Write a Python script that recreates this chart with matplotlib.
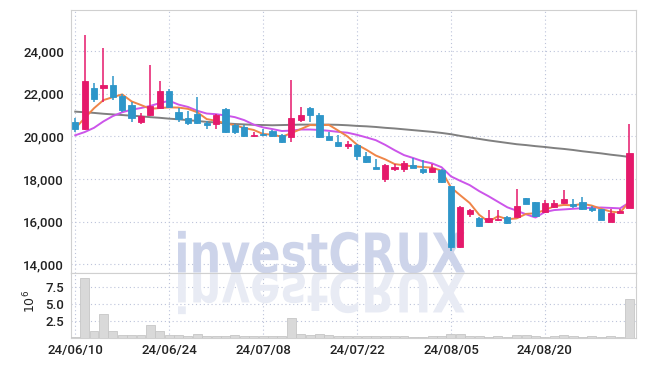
import numpy as np
import pandas as pd
import matplotlib
matplotlib.use("Agg")
import matplotlib.pyplot as plt
from matplotlib.textpath import TextPath
from matplotlib.patches import PathPatch
from matplotlib.font_manager import FontProperties
from matplotlib.transforms import Affine2D, IdentityTransform
from matplotlib.ticker import FuncFormatter

# daily candles, 2024-06-10 .. 2024-09-02 (trading days)
opens = [20690, 20345, 22260, 22260, 22400, 21900, 21460, 20690, 21000, 21350,
         22130, 21160, 20880, 21070, 20640, 20600, 21300, 20520, 20440, 20020,
         20130, 20240, 20080, 19970, 20790, 21330, 20990, 20000, 19730, 19550,
         19610, 19060, 18560, 18010, 18450, 18480, 18640, 18450, 18320, 18400,
         17650, 14790, 16360, 16170, 15970, 16060, 16200, 16200, 17110, 16940,
         16440, 16670, 16860, 16830, 16910, 16630, 16570, 16000, 16390, 16640]
highs = [20850, 24770, 22490, 24140, 22810, 21980, 21600, 21080, 23330, 22600,
         22210, 21320, 21180, 21850, 20710, 21070, 21330, 20600, 20520, 20200,
         20330, 20280, 20130, 22630, 21380, 21380, 21110, 20200, 20050, 19770,
         19660, 19260, 18950, 18710, 18710, 18820, 19000, 18870, 18710, 18480,
         17680, 16750, 16600, 16200, 16550, 16520, 16250, 17540, 17110, 16940,
         16990, 16990, 17490, 17040, 17150, 16750, 16570, 16600, 16600, 20570]
lows = [20220, 20300, 21600, 21630, 21710, 21130, 20660, 20570, 20950, 21290,
        21320, 20690, 20550, 20600, 20360, 20330, 20170, 20090, 19970, 19970,
        20020, 19970, 19700, 19730, 20670, 20670, 19940, 19810, 19500, 19390,
        18870, 18760, 18450, 17880, 18380, 18320, 18520, 18240, 18300, 17820,
        14640, 14760, 16200, 15760, 15940, 16030, 15890, 16200, 16830, 16200,
        16420, 16640, 16840, 16640, 16560, 16460, 16090, 15990, 16380, 16630]
closes = [20345, 22600, 21760, 22400, 21870, 21240, 20850, 20970, 21440, 22130,
          21400, 20820, 20640, 20640, 20520, 21020, 20200, 20200, 20020, 20080,
          20060, 20020, 19730, 20860, 21020, 21020, 19970, 19810, 19550, 19620,
          19070, 18790, 18480, 18640, 18540, 18760, 18530, 18320, 18510, 17850,
          14790, 16670, 16520, 15780, 16170, 16130, 15940, 16750, 16830, 16280,
          16880, 16880, 17040, 16740, 16600, 16520, 16090, 16410, 16490, 19220]
volume_m = [0.1, 8.7, 0.95, 3.4, 0.95, 0.3, 0.3, 0.3, 1.8, 0.95,
            0.3, 0.3, 0.15, 0.5, 0.15, 0.15, 0.15, 0.3, 0.15, 0.15,
            0.15, 0.15, 0.15, 2.8, 0.5, 0.35, 0.5, 0.35, 0.2, 0.15,
            0.15, 0.15, 0.15, 0.15, 0.15, 0.15, 0.1, 0.1, 0.15, 0.2,
            0.5, 0.5, 0.2, 0.15, 0.1, 0.15, 0.1, 0.35, 0.35, 0.15,
            0.1, 0.2, 0.3, 0.15, 0.1, 0.15, 0.1, 0.15, 0.1, 5.6]

# moving averages as they appear on the chart
ma5 = [20380, 20850, 21320, 21700, 21840, 21970, 21640, 21470, 21290, 21330,
       21360, 21350, 21290, 21130, 20810, 20730, 20610, 20520, 20390, 20300,
       20110, 20080, 19980, 20150, 20340, 20530, 20520, 20540, 20270, 19990,
       19610, 19370, 19100, 18920, 18700, 18640, 18590, 18560, 18530, 18390,
       17600, 17230, 16870, 16320, 15990, 16250, 16110, 16150, 16360, 16390,
       16540, 16720, 16780, 16760, 16830, 16750, 16600, 16470, 16420, 16940]
ma10 = [20050, 20200, 20400, 20700, 20950, 21130, 21250, 21330, 21430, 21560,
        21670, 21490, 21380, 21200, 21070, 21040, 20980, 20900, 20760, 20550,
        20420, 20340, 20250, 20270, 20320, 20320, 20300, 20260, 20210, 20170,
        20070, 19950, 19820, 19600, 19350, 19120, 18980, 18830, 18730, 18550,
        18120, 17910, 17710, 17430, 17190, 16930, 16670, 16510, 16340, 16190,
        16450, 16540, 16570, 16600, 16630, 16650, 16660, 16640, 16620, 16900]
ma_long = [21160, 21130, 21100, 21060, 21030, 21000, 20970, 20940, 20900, 20870,
           20830, 20800, 20760, 20720, 20680, 20650, 20610, 20580, 20560, 20540,
           20530, 20520, 20530, 20540, 20550, 20550, 20550, 20550, 20540, 20520,
           20490, 20470, 20440, 20400, 20370, 20330, 20290, 20250, 20210, 20160,
           20100, 20020, 19950, 19880, 19810, 19750, 19690, 19630, 19590, 19540,
           19500, 19450, 19410, 19360, 19300, 19250, 19200, 19140, 19090, 19030]

dates = pd.bdate_range("2024-06-10", "2024-09-02")
dates = dates[dates != pd.Timestamp("2024-08-15")]  # Korean holiday

UP = "#e5196b"
DOWN = "#2e96c9"
GRID = "#bcc3da"
SPINE = "#d0d0d0"
label_font = "Roboto"

fig = plt.figure(figsize=(6.45, 3.66), dpi=100)
ax = fig.add_axes([71 / 645, 1 - 272.7 / 366, 565 / 645, 262.7 / 366])
axv = fig.add_axes([71 / 645, 1 - 337.5 / 366, 565 / 645, 64.8 / 366], sharex=ax)

x = np.arange(len(closes))
o = np.array(opens)
c = np.array(closes)
colors = np.where(c >= o, UP, DOWN)

# moving averages
ax.plot(x, ma_long, color="#808080", lw=1.4, zorder=3)
ax.plot(x, ma10, color="#cc55ea", lw=1.4, zorder=3)
ax.plot(x, ma5, color="#ef8548", lw=1.4, zorder=3)

# candles
ax.vlines(x, lows, highs, colors=colors, lw=1.1, zorder=4)
ax.bar(x, np.abs(c - o), bottom=np.minimum(o, c), width=0.66, color=colors,
       edgecolor=colors, lw=0.6, zorder=5)

# volume
axv.bar(x, volume_m, width=0.95, color="#d9d9d9", edgecolor="#c6c6c6", lw=0.6, zorder=3)

ax.set_xlim(-0.45, 59.7)
ax.set_ylim(13600, 25930)
axv.set_ylim(0, 9.53)

tick_pos = list(range(0, len(dates), 10))
ax.set_xticks(tick_pos)
axv.set_xticklabels([dates[i].strftime("%y/%m/%d") for i in tick_pos])
ax.set_yticks(range(14000, 24001, 2000))
ax.yaxis.set_major_formatter(FuncFormatter(lambda v, p: f"{v:,.0f}"))
axv.set_yticks([2.5, 5.0, 7.5])
axv.yaxis.set_major_formatter(FuncFormatter(lambda v, p: f"{v:.1f}"))

for a in (ax, axv):
    a.grid(True, ls=(0, (1, 2.5)), color=GRID, lw=0.8, zorder=0)
    a.set_axisbelow(True)
    for s in a.spines.values():
        s.set_color(SPINE)
        s.set_linewidth(0.8)
    a.tick_params(length=0, pad=5, labelsize=9.5, labelcolor="#222222")
    for t in a.get_xticklabels() + a.get_yticklabels():
        t.set_fontfamily(label_font)
        t.set_fontweight("medium")
ax.tick_params(labelbottom=False)

axv.set_ylabel("$10^6$", fontsize=9, color="#222222")
axv.yaxis.set_label_coords(-0.058, 0.56)

# watermark with reflection
fp = FontProperties(family="DejaVu Sans", weight="bold")
tp = TextPath((0, 0), "investCRUX", size=1, prop=fp)
bb = tp.get_extents()
sx = 287 / bb.width
sy = 40 / 0.73
base = 366 - 272.5
tr = Affine2D().translate(-bb.x0, 0).scale(sx, sy).translate(178, base)
ax.add_patch(PathPatch(tr.transform_path(tp), transform=IdentityTransform(),
                       facecolor="#cdd4ea", lw=0, zorder=1))
tr2 = Affine2D().translate(-bb.x0, 0).scale(sx, -sy).translate(178, base)
axv.add_patch(PathPatch(tr2.transform_path(tp), transform=IdentityTransform(),
                        facecolor="#e8ebf4", lw=0, zorder=1))

fig.savefig("out.png", dpi=100)
